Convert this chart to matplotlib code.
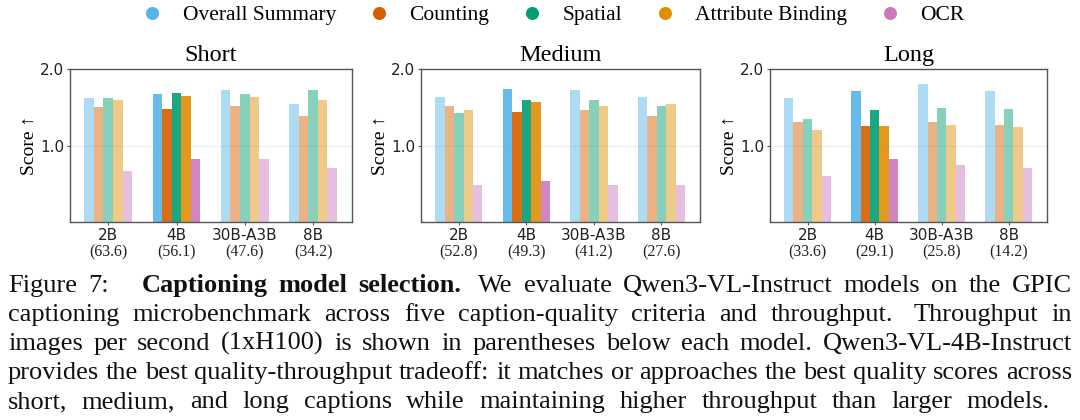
import matplotlib
matplotlib.use("Agg")
import matplotlib.pyplot as plt
from matplotlib.lines import Line2D
import numpy as np

models = ['2B', '4B', '30B-A3B', '8B']
panels = ['Short', 'Medium', 'Long']
criteria = ['Overall Summary', 'Counting', 'Spatial', 'Attribute Binding', 'OCR']
colors = ['#56b4e9', '#d55e00', '#029e73', '#de8f05', '#cc78bc']

throughput_short = [63.6, 56.1, 47.6, 34.2]
throughput_medium = [52.8, 49.3, 41.2, 27.6]
throughput_long = [33.6, 29.1, 25.8, 14.2]

short_overall = [1.62, 1.67, 1.72, 1.54]
short_counting = [1.50, 1.48, 1.51, 1.38]
short_spatial = [1.62, 1.68, 1.67, 1.73]
short_attr = [1.59, 1.65, 1.64, 1.59]
short_ocr = [0.67, 0.82, 0.83, 0.70]

medium_overall = [1.63, 1.74, 1.73, 1.64]
medium_counting = [1.52, 1.44, 1.47, 1.38]
medium_spatial = [1.42, 1.60, 1.59, 1.52]
medium_attr = [1.47, 1.57, 1.52, 1.54]
medium_ocr = [0.48, 0.54, 0.48, 0.49]

long_overall = [1.62, 1.71, 1.80, 1.71]
long_counting = [1.31, 1.25, 1.31, 1.27]
long_spatial = [1.35, 1.47, 1.49, 1.48]
long_attr = [1.20, 1.25, 1.27, 1.24]
long_ocr = [0.60, 0.83, 0.75, 0.70]

highlight = '4B'

caption_lines = [
    [("Figure", 'normal'), ("7:", 'normal'), ("Captioning", 'bold'), ("model", 'bold'),
     ("selection.", 'bold'), ("We", 'normal'), ("evaluate", 'normal'),
     ("Qwen3-VL-Instruct", 'normal'), ("models", 'normal'), ("on", 'normal'),
     ("the", 'normal'), ("GPIC", 'normal')],
    "captioning microbenchmark across five caption-quality criteria and throughput.  Throughput in",
    "images per second (1xH100) is shown in parentheses below each model. Qwen3-VL-4B-Instruct",
    "provides the best quality-throughput tradeoff: it matches or approaches the best quality scores across",
    "short, medium, and long captions while maintaining higher throughput than larger models.",
]

data = {
    'Short': ([short_overall, short_counting, short_spatial, short_attr, short_ocr], throughput_short),
    'Medium': ([medium_overall, medium_counting, medium_spatial, medium_attr, medium_ocr], throughput_medium),
    'Long': ([long_overall, long_counting, long_spatial, long_attr, long_ocr], throughput_long),
}

SERIF = ['Liberation Serif', 'DejaVu Serif']
SANS = ['DejaVu Sans']

W, H = 1080, 420
fig = plt.figure(figsize=(W / 100, H / 100), dpi=100)

axes_px = [(70, 282), (421, 279), (770, 277)]
top_px, bot_px = 69, 222

bar_w = 0.14
x = np.arange(len(models))
for (name, (series, thr)), (lx, wx) in zip(data.items(), axes_px):
    ax = fig.add_axes([lx / W, 1 - bot_px / H, wx / W, (bot_px - top_px) / H])
    for k, (vals, col) in enumerate(zip(series, colors)):
        offs = (k - 2) * bar_w
        for i, m in enumerate(models):
            a = 0.9 if m == highlight else 0.48
            ax.bar(x[i] + offs, vals[i], width=bar_w, color=col, alpha=a, linewidth=0)
    ax.set_xlim(-0.56, 3.57)
    ax.set_ylim(0, 2.0)
    ax.set_yticks([1.0, 2.0])
    ax.set_yticklabels(['1.0', '2.0'], family=SANS, fontsize=11, color='#222222')
    ax.set_xticks(x)
    ax.set_xticklabels(models, family=SANS, fontsize=11, color='#222222')
    ax.tick_params(axis='both', length=2.5, width=0.8, color='#555555', pad=1.5)
    ax.grid(axis='y', color='#ececec', linewidth=0.8)
    ax.set_axisbelow(True)
    for sp in ax.spines.values():
        sp.set_color('#555555')
        sp.set_linewidth(1.0)
    ax.set_title(name, family=SERIF, fontsize=17.5, pad=6)
    ax.set_ylabel('Score \u2191', family=SERIF, fontsize=14, labelpad=2)
    for i, t in enumerate(thr):
        ax.annotate(f'({t})', xy=(x[i], 0), xycoords=('data', 'axes fraction'),
                    xytext=(0, -16), textcoords='offset points', ha='center', va='top',
                    family=SERIF, fontsize=11.5, color='#222222')

handles = [Line2D([], [], marker='o', linestyle='none', markersize=9.4,
                  markerfacecolor=c, markeredgecolor='none') for c in colors]
fig.legend(handles, criteria, loc='center', bbox_to_anchor=(552 / W, 1 - 15 / H), ncol=5,
           frameon=False, prop={'family': SERIF, 'size': 15.5}, handletextpad=0.8,
           columnspacing=1.4, handlelength=1.2)

# caption (justified)
renderer = fig.canvas.get_renderer()
cap_size = 19
x0_px, x1_px = 8, 1072
last_end_px = 1050
baselines = [292, 321, 350, 379, 408]

def place_line(tokens, ybase, right_px, gap_weights=None):
    texts = []
    widths = []
    for word, weight in tokens:
        t = fig.text(0, 1 - ybase / H, word, family=SERIF, fontsize=cap_size,
                     fontweight=weight, va='baseline', ha='left', color='#111111')
        bb = t.get_window_extent(renderer)
        texts.append(t)
        widths.append(bb.width)
    n = len(tokens)
    if gap_weights is None:
        gap_weights = [1.0] * (n - 1)
    sp_nat = fig.text(0, 0, 'a a', family=SERIF, fontsize=cap_size)
    aa = fig.text(0, 0, 'aa', family=SERIF, fontsize=cap_size)
    space = sp_nat.get_window_extent(renderer).width - aa.get_window_extent(renderer).width
    sp_nat.remove(); aa.remove()
    unit = (right_px - x0_px - sum(widths)) / sum(gap_weights)
    unit = max(unit, 0.5 * space)
    xpos = x0_px
    for j, t in enumerate(texts):
        t.set_x(xpos / W)
        xpos += widths[j]
        if j < n - 1:
            xpos += unit * gap_weights[j]

for li, line in enumerate(caption_lines):
    if isinstance(line, str):
        toks = [(w, 'normal') for w in line.split()]
        gw = None
        if li == 1:
            gw = [1.0] * (len(toks) - 1)
            idx = [w for w, _ in toks].index('throughput.')
            gw[idx] = 1.6
    else:
        toks = line
        gw = [1.0] * (len(toks) - 1)
        gw[1] = 3.0
        gw[4] = 1.5
    right = x1_px if li < len(caption_lines) - 1 else last_end_px
    place_line(toks, baselines[li], right, gap_weights=gw)

fig.savefig('out.png', dpi=100)
